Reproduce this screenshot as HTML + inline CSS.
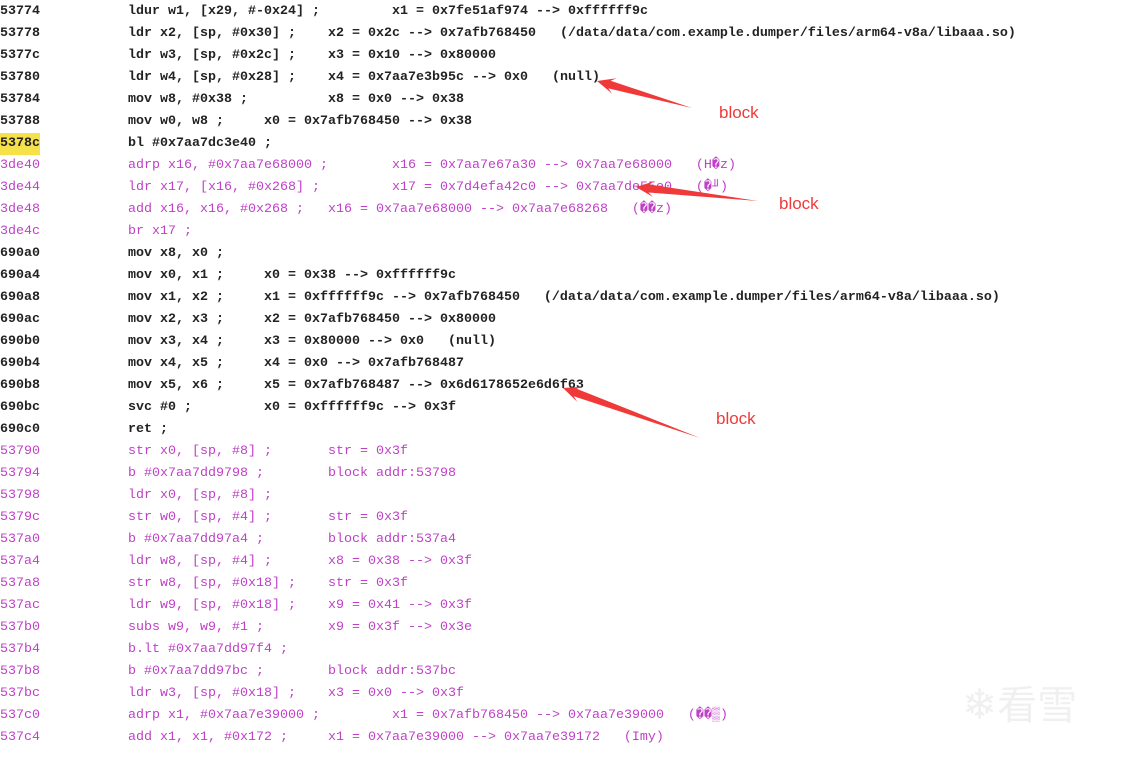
<!DOCTYPE html>
<html><head><meta charset="utf-8"><style>
body{margin:0;width:1134px;height:758px;background:#fff;position:relative;overflow:hidden;font-family:"Liberation Mono","DejaVu Sans Mono",monospace;font-size:13.33px}
.l{position:absolute;left:0;height:22px;line-height:22px;white-space:pre}
.k{color:#222;font-weight:bold}
.p{color:#c03fc8}
.a,.c,.m{position:absolute;top:0}
.a{left:0}.c{left:128px}
.hl{background:#f7e14a}
.b{position:absolute;color:#f03a3a;font-family:"Liberation Sans",sans-serif;font-size:17px}
</style></head><body>
<div id="lines"></div>
<div class="b" style="left:719px;top:103px">block</div>
<div class="b" style="left:779px;top:194px">block</div>
<div class="b" style="left:716px;top:409px">block</div>
<svg width="1134" height="758" style="position:absolute;left:0;top:0" id="sv"></svg>
<div style="position:absolute;left:962px;top:678px;color:#f0f0f0;font-size:40px;font-family:'Noto Sans CJK SC',sans-serif;line-height:48px"><span style="font-size:42px">❄</span>看雪</div>
<script>
var L=[
["k","53774","ldur w1, [x29, #-0x24] ;",392,"x1 = 0x7fe51af974 --> 0xffffff9c"],
["k","53778","ldr x2, [sp, #0x30] ;",328,"x2 = 0x2c --> 0x7afb768450   (/data/data/com.example.dumper/files/arm64-v8a/libaaa.so)"],
["k","5377c","ldr w3, [sp, #0x2c] ;",328,"x3 = 0x10 --> 0x80000"],
["k","53780","ldr w4, [sp, #0x28] ;",328,"x4 = 0x7aa7e3b95c --> 0x0   (null)"],
["k","53784","mov w8, #0x38 ;",328,"x8 = 0x0 --> 0x38"],
["k","53788","mov w0, w8 ;",264,"x0 = 0x7afb768450 --> 0x38"],
["k","5378c","bl #0x7aa7dc3e40 ;",0,""],
["p","3de40","adrp x16, #0x7aa7e68000 ;",392,"x16 = 0x7aa7e67a30 --> 0x7aa7e68000   (H�z)"],
["p","3de44","ldr x17, [x16, #0x268] ;",392,"x17 = 0x7d4efa42c0 --> 0x7aa7de55e0   (�╜)"],
["p","3de48","add x16, x16, #0x268 ;",328,"x16 = 0x7aa7e68000 --> 0x7aa7e68268   (��z)"],
["p","3de4c","br x17 ;",0,""],
["k","690a0","mov x8, x0 ;",0,""],
["k","690a4","mov x0, x1 ;",264,"x0 = 0x38 --> 0xffffff9c"],
["k","690a8","mov x1, x2 ;",264,"x1 = 0xffffff9c --> 0x7afb768450   (/data/data/com.example.dumper/files/arm64-v8a/libaaa.so)"],
["k","690ac","mov x2, x3 ;",264,"x2 = 0x7afb768450 --> 0x80000"],
["k","690b0","mov x3, x4 ;",264,"x3 = 0x80000 --> 0x0   (null)"],
["k","690b4","mov x4, x5 ;",264,"x4 = 0x0 --> 0x7afb768487"],
["k","690b8","mov x5, x6 ;",264,"x5 = 0x7afb768487 --> 0x6d6178652e6d6f63"],
["k","690bc","svc #0 ;",264,"x0 = 0xffffff9c --> 0x3f"],
["k","690c0","ret ;",0,""],
["p","53790","str x0, [sp, #8] ;",328,"str = 0x3f"],
["p","53794","b #0x7aa7dd9798 ;",328,"block addr:53798"],
["p","53798","ldr x0, [sp, #8] ;",0,""],
["p","5379c","str w0, [sp, #4] ;",328,"str = 0x3f"],
["p","537a0","b #0x7aa7dd97a4 ;",328,"block addr:537a4"],
["p","537a4","ldr w8, [sp, #4] ;",328,"x8 = 0x38 --> 0x3f"],
["p","537a8","str w8, [sp, #0x18] ;",328,"str = 0x3f"],
["p","537ac","ldr w9, [sp, #0x18] ;",328,"x9 = 0x41 --> 0x3f"],
["p","537b0","subs w9, w9, #1 ;",328,"x9 = 0x3f --> 0x3e"],
["p","537b4","b.lt #0x7aa7dd97f4 ;",0,""],
["p","537b8","b #0x7aa7dd97bc ;",328,"block addr:537bc"],
["p","537bc","ldr w3, [sp, #0x18] ;",328,"x3 = 0x0 --> 0x3f"],
["p","537c0","adrp x1, #0x7aa7e39000 ;",392,"x1 = 0x7afb768450 --> 0x7aa7e39000   (��▒)"],
["p","537c4","add x1, x1, #0x172 ;",328,"x1 = 0x7aa7e39000 --> 0x7aa7e39172   (Imy)"]];
var h="";
function e(s){return s.replace(/&/g,"&amp;").replace(/</g,"&lt;").replace(/>/g,"&gt;")}
L.forEach(function(r,i){
 var ac=(r[1]=="5378c")?' hl':'';
 h+='<div class="l '+r[0]+'" style="top:'+(i*22+1)+'px;width:1134px"><span class="a'+ac+'">'+r[1]+'</span><span class="c">'+e(r[2])+'</span>'+(r[4]?'<span class="m" style="left:'+r[3]+'px">'+e(r[4])+'</span>':'')+'</div>';
});
document.getElementById("lines").innerHTML=h;
function arrow(tx,ty,sx,sy){
 var dx=tx-sx,dy=ty-sy,len=Math.sqrt(dx*dx+dy*dy),ux=dx/len,uy=dy/len,nx=-uy,ny=ux;
 var hl=18,hw=8,sw=4;
 var bx=tx-ux*hl,by=ty-uy*hl;
 var nb=tx-ux*(hl-5),nby=ty-uy*(hl-5);
 var p=[[tx,ty],[bx+nx*hw,by+ny*hw],[nb+nx*sw,nby+ny*sw],[sx,sy],[nb-nx*sw,nby-ny*sw],[bx-nx*hw,by-ny*hw]];
 return '<polygon fill="#f03a3a" points="'+p.map(function(q){return q[0].toFixed(1)+","+q[1].toFixed(1)}).join(" ")+'"/>';
}
document.getElementById("sv").innerHTML=arrow(597,81,692,108)+arrow(636,187,758,201)+arrow(563,388,700,438);
</script>
</body></html>
